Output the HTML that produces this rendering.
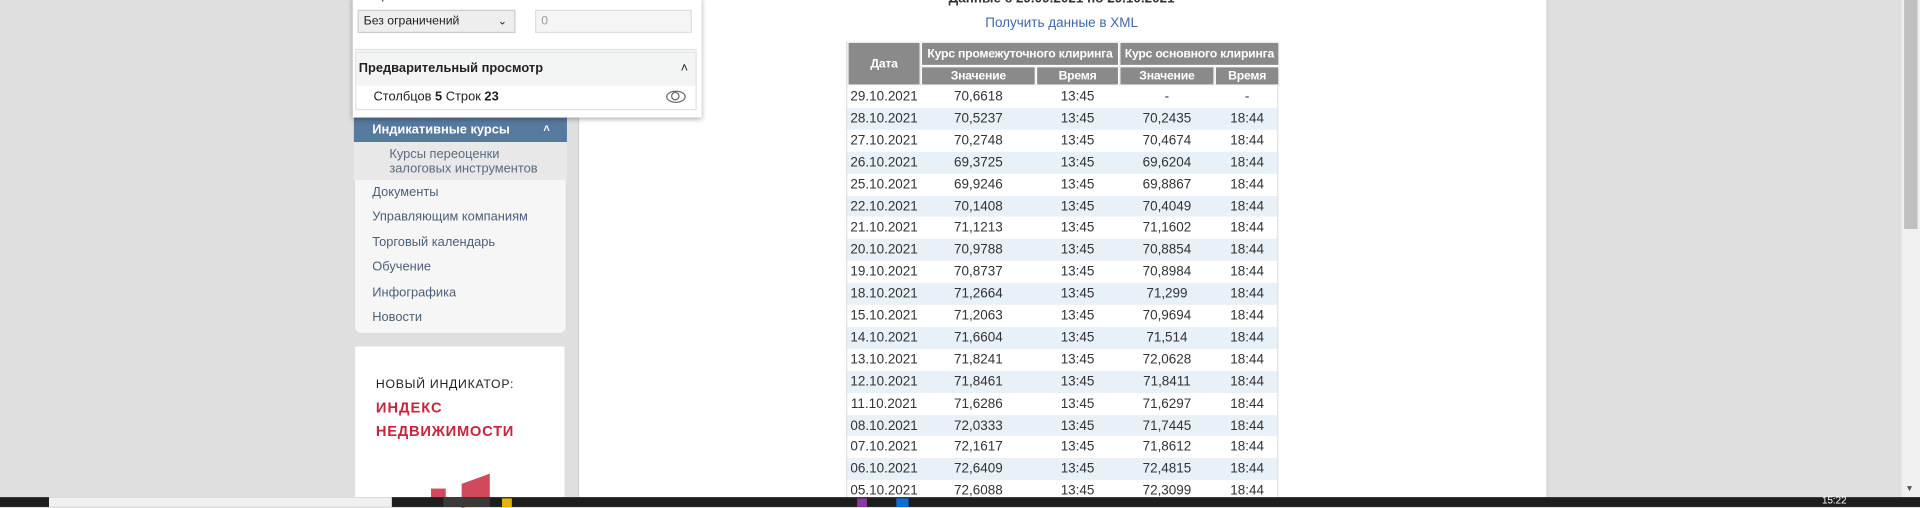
<!DOCTYPE html>
<html><head><meta charset="utf-8">
<style>
html,body{margin:0;padding:0;width:1920px;height:507px;overflow:hidden;background:#dfdfdf;}
#s{position:absolute;left:0;top:0;width:1568px;height:414px;transform:scale(1.22449);transform-origin:0 0;font-family:"Liberation Sans",Arial,sans-serif;background:#dfdfdf;}
.a{position:absolute;}
.menu{font-size:10.5px;color:#4c5f78;}
.cell{position:absolute;text-align:center;font-size:11px;color:#333;line-height:17.9px;}
.hd{position:absolute;background:#8a8a8a;color:#fff;font-weight:bold;font-size:10px;text-align:center;box-sizing:border-box;border:1px solid #fff;display:flex;align-items:center;justify-content:center;white-space:nowrap;letter-spacing:-0.2px;}
</style></head><body>
<div id="s">
  <div class="a" style="left:472px;top:0;width:790px;height:406px;background:#fff;border-left:1px solid #d0d0d0;border-right:1px solid #c8c8c8;"></div>
  <div class="a" style="left:1553px;top:0;width:15px;height:406px;background:#f0f0f0;"></div>
  <div class="a" style="left:1555px;top:0;width:11px;height:187px;background:#c0c0c0;"></div>
  <div class="a" style="left:1556px;top:396px;font-size:7px;color:#555;">▼</div>

  <div class="a" style="left:289px;top:0;width:174px;height:273px;background:#f6f6f6;border:1px solid #ddd;border-radius:0 0 6px 6px;box-sizing:border-box;"></div>
  <div class="a" style="left:289px;top:96px;width:174px;height:20px;background:#56799e;color:#fff;font-weight:bold;font-size:10.5px;line-height:20px;"><span style="margin-left:15px;">Индикативные курсы</span><span style="position:absolute;right:14px;top:-1px;font-size:9px;">˄</span></div>
  <div class="a menu" style="left:289px;top:116px;width:174px;height:31px;background:#e8e8e8;"><div style="margin-left:29px;margin-top:4px;line-height:12px;color:#5a6b80;">Курсы переоценки<br>залоговых инструментов</div></div>
  <div class="a menu" style="left:304px;top:151px;">Документы</div>
  <div class="a menu" style="left:304px;top:171px;">Управляющим компаниям</div>
  <div class="a menu" style="left:304px;top:192px;">Торговый календарь</div>
  <div class="a menu" style="left:304px;top:212px;">Обучение</div>
  <div class="a menu" style="left:304px;top:233px;">Инфографика</div>
  <div class="a menu" style="left:304px;top:253px;">Новости</div>

  <div class="a" style="left:290px;top:283px;width:171px;height:123px;background:#fff;">
    <div class="a" style="left:17px;top:26px;font-size:10px;color:#222;letter-spacing:0.6px;">НОВЫЙ ИНДИКАТОР:</div>
    <div class="a" style="left:17px;top:43px;font-size:12px;color:#c8243c;font-weight:bold;letter-spacing:0.8px;">ИНДЕКС</div>
    <div class="a" style="left:17px;top:62px;font-size:12px;color:#c8243c;font-weight:bold;letter-spacing:0.6px;">НЕДВИЖИМОСТИ</div>
    <div class="a" style="left:87px;top:108px;width:23px;height:20px;background:#d04a5c;transform:skewY(-20deg);"></div>
    <div class="a" style="left:62px;top:116px;width:12px;height:10px;background:#d04a5c;"></div>
  </div>

  <div class="a" style="left:288px;top:-2px;width:285px;height:98px;background:#fff;box-shadow:0 1px 4px rgba(0,0,0,0.35);">
    <div class="a" style="left:12px;top:-7px;font-size:10px;color:#222;">Ограничить количество:</div>
    <div class="a" style="left:4px;top:10px;width:127px;height:17px;background:#eee;border:1px solid #ccc;font-size:10px;line-height:17px;color:#222;"><span style="margin-left:4px;">Без ограничений</span><span style="position:absolute;right:6px;top:0;font-size:9px;">⌄</span></div>
    <div class="a" style="left:149px;top:10px;width:126px;height:17px;background:#f5f5f5;border:1px solid #ddd;font-size:10px;line-height:17px;color:#999;"><span style="margin-left:4px;">0</span></div>
    <div class="a" style="left:2px;top:42px;width:279px;height:1px;background:#ddd;"></div>
    <div class="a" style="left:2px;top:44px;width:277px;height:46px;border:1px solid #e2e2e2;">
      <div style="height:27px;background:#f3f4f4;font-size:10.5px;font-weight:bold;color:#222;line-height:27px;padding-left:2px;">Предварительный просмотр<span style="position:absolute;right:6px;top:0;font-weight:normal;">˄</span></div>
      <div style="font-size:10.5px;color:#222;line-height:19px;padding-left:14px;">Столбцов <b>5</b> Строк <b>23</b><span style="position:absolute;right:8px;bottom:5px;width:14px;height:8px;border:1px solid #666;border-radius:50%;"></span><span style="position:absolute;right:13px;bottom:7px;width:5px;height:5px;border:1px solid #666;border-radius:50%;"></span></div>
    </div>
  </div>

  <div class="a" style="left:700px;top:-7px;width:334px;text-align:center;font-size:11px;font-weight:bold;color:#333;">Данные с 29.09.2021 по 29.10.2021</div>
  <div class="a" style="left:700px;top:13px;width:334px;text-align:center;font-size:11px;color:#3d68a6;">Получить данные в XML</div>

  <div class="a" id="tbl" style="left:691px;top:34px;width:353px;height:380px;border-left:1px solid #ddd;border-right:1px solid #ddd;box-sizing:border-box;">
    <div class="hd" style="left:0;top:0;width:60px;height:36px;">Дата</div>
    <div class="hd" style="left:60px;top:0;width:162px;height:20px;">Курс промежуточного клиринга</div>
    <div class="hd" style="left:222px;top:0;width:131px;height:20px;">Курс основного клиринга</div>
    <div class="hd" style="left:60px;top:20px;width:94px;height:16px;">Значение</div>
    <div class="hd" style="left:154px;top:20px;width:68px;height:16px;">Время</div>
    <div class="hd" style="left:222px;top:20px;width:78px;height:16px;">Значение</div>
    <div class="hd" style="left:300px;top:20px;width:53px;height:16px;">Время</div>
  </div>

  <div class="a" style="left:0;top:406px;width:1568px;height:8px;background:#1e1e1e;">
    <div class="a" style="left:40px;top:0;width:280px;height:8px;background:#f0f0f0;"></div>
    <div class="a" style="left:362px;top:0;width:38px;height:8px;background:#3a3a3a;"></div>
    <div class="a" style="left:410px;top:1px;width:8px;height:7px;background:#e8b400;"></div>
    <div class="a" style="left:700px;top:1px;width:8px;height:7px;background:#8a3aa8;"></div>
    <div class="a" style="left:732px;top:1px;width:10px;height:7px;background:#0a6fd8;"></div>
    <div class="a" style="left:1488px;top:-2px;font-size:8px;color:#fff;">15:22</div>
  </div>
</div>
<script>
const dates=["29.10.2021","28.10.2021","27.10.2021","26.10.2021","25.10.2021","22.10.2021","21.10.2021","20.10.2021","19.10.2021","18.10.2021","15.10.2021","14.10.2021","13.10.2021","12.10.2021","11.10.2021","08.10.2021","07.10.2021","06.10.2021","05.10.2021"];
const interValues=["70,6618","70,5237","70,2748","69,3725","69,9246","70,1408","71,1213","70,9788","70,8737","71,2664","71,2063","71,6604","71,8241","71,8461","71,6286","72,0333","72,1617","72,6409","72,6088"];
const interTimes=["13:45","13:45","13:45","13:45","13:45","13:45","13:45","13:45","13:45","13:45","13:45","13:45","13:45","13:45","13:45","13:45","13:45","13:45","13:45"];
const mainValues=["-","70,2435","70,4674","69,6204","69,8867","70,4049","71,1602","70,8854","70,8984","71,299","70,9694","71,514","72,0628","71,8411","71,6297","71,7445","71,8612","72,4815","72,3099"];
const mainTimes=["-","18:44","18:44","18:44","18:44","18:44","18:44","18:44","18:44","18:44","18:44","18:44","18:44","18:44","18:44","18:44","18:44","18:44","18:44"];
const tbl=document.getElementById('tbl');
const rowH=17.9, top0=36;
const cols=[[0,60],[60,94],[154,68],[222,78],[300,53]];
for(let i=0;i<dates.length;i++){
  const r=document.createElement('div');
  
  
  r.style.cssText='position:absolute;left:0;width:351px;height:'+rowH+'px;top:'+(top0+i*rowH)+'px;background:'+(i%2?'#e8f0f8':'#fff')+';';
  const vals=[dates[i],interValues[i],interTimes[i],mainValues[i],mainTimes[i]];
  vals.forEach((v,j)=>{
    const c=document.createElement('div');
    
    
    c.className='cell';
    c.style.left=cols[j][0]+'px';c.style.width=cols[j][1]+'px';
    c.style.top='1px';
    c.textContent=v;
    r.appendChild(c);
  });
  tbl.appendChild(r);
}
</script>
</body></html>
